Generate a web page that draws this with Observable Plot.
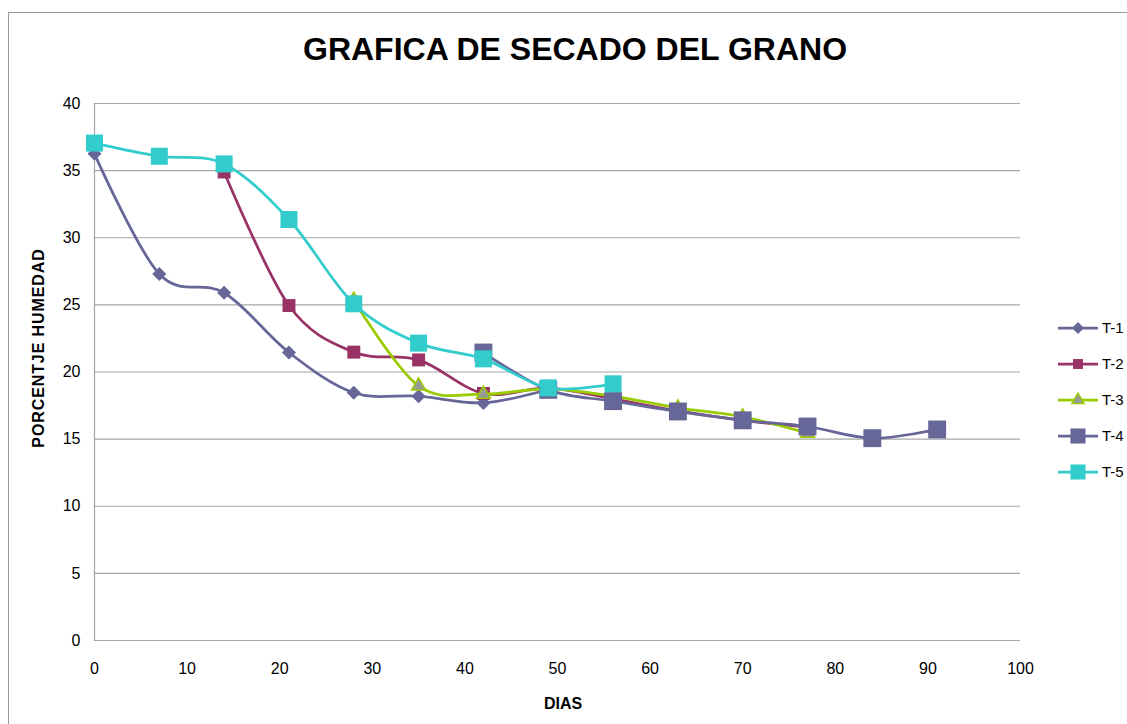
<!DOCTYPE html>
<html>
<head>
<meta charset="utf-8">
<script src="https://cdn.jsdelivr.net/npm/d3@7"></script>
<script src="https://cdn.jsdelivr.net/npm/@observablehq/plot@0.6"></script>
<style>
  html, body { margin: 0; padding: 0; background: #fff; }
  #wrap { position: relative; width: 1127px; height: 724px; overflow: hidden; font-family: "Liberation Sans", Arial, sans-serif; }
  #frame { position: absolute; left: 8px; top: 12px; width: 1200px; height: 800px; border-top: 1.5px solid #999; border-left: 1.5px solid #999; }
  #title { position: absolute; left: 0; top: 33px; width: 1150px; text-align: center; font-weight: bold; font-size: 32px; line-height: 32px; color: #000; }
  #xlab { position: absolute; left: 563px; top: 704px; transform: translate(-50%, -50%); font-weight: bold; font-size: 16px; color: #000; white-space: nowrap; }
  #ylab { position: absolute; left: 39px; top: 348px; transform: translate(-50%, -50%) rotate(-90deg); font-weight: bold; font-size: 16px; letter-spacing: 0.9px; color: #000; white-space: nowrap; }
  #chart { position: absolute; left: 0; top: 0; }
  #legend { position: absolute; left: 1050px; top: 310px; }
</style>
</head>
<body>
<div id="wrap">
  <div id="frame"></div>
  <div id="chart"></div>
  <div id="title">GRAFICA DE SECADO DEL GRANO</div>
  <div id="ylab">PORCENTJE HUMEDAD</div>
  <div id="xlab">DIAS</div>
  <div id="legend"></div>
</div>
<script>
// ---- Data ----
const dias = [0, 7, 14, 21, 28, 35, 42, 49, 56, 63, 70, 77, 84, 91];
const t1 = [36.25, 27.3, 25.9, 21.45, 18.45, 18.2, 17.7, 18.7, null, null, null, null, null, null];
const t2 = [null, null, 34.9, 24.95, 21.48, 20.9, 18.4, 18.8, 18.0, 17.1, 16.4, 15.9, null, null];
const t3 = [null, null, null, null, 25.35, 18.96, 18.35, 18.75, 18.2, 17.33, 16.66, 15.45, null, null];
const t4 = [null, null, null, null, null, null, 21.45, 18.67, 17.83, 17.06, 16.4, 15.94, 15.07, 15.72];
const t5 = [37.05, 36.07, 35.5, 31.36, 25.08, 22.15, 20.98, 18.82, 19.12, null, null, null, null, null];
const seriesNames = ["T-1", "T-2", "T-3", "T-4", "T-5"];
const seriesValues = [t1, t2, t3, t4, t5];
const xTicks = [0, 10, 20, 30, 40, 50, 60, 70, 80, 90, 100];
const yTicks = [0, 5, 10, 15, 20, 25, 30, 35, 40];

// ---- Styles ----
const styles = {
  "T-1": { color: "#666699", symbol: "square", rotate: 45, r: 5.6, fill: "#666699", stroke: "none", lr: 4.8 },
  "T-2": { color: "#993366", symbol: "square", rotate: 0, r: 7.3, fill: "#993366", stroke: "none", lr: 5.6 },
  "T-3": { color: "#99cc00", symbol: "triangle", rotate: 0, r: 5.2, fill: "#999999", stroke: "#99cc00", lr: 4.5 },
  "T-4": { color: "#666699", symbol: "square", rotate: 0, r: 10.1, fill: "#666699", stroke: "none", lr: 8.5 },
  "T-5": { color: "#33cccc", symbol: "square", rotate: 0, r: 9.6, fill: "#33cccc", stroke: "none", lr: 8.5 }
};

const rows = [];
seriesNames.forEach((s, i) => {
  seriesValues[i].forEach((v, j) => {
    if (v != null) rows.push({ serie: s, dia: dias[j], valor: v });
  });
});

const seriesMarks = seriesNames.flatMap(s => {
  const st = styles[s];
  const d = rows.filter(r => r.serie === s);
  return [
    Plot.line(d, { x: "dia", y: "valor", stroke: st.color, strokeWidth: 2.75, curve: "cardinal", tension: 0 }),
    Plot.dot(d, {
      x: "dia", y: "valor", symbol: st.symbol, r: st.r, rotate: st.rotate,
      fill: st.fill, stroke: st.stroke, strokeWidth: st.stroke === "none" ? 0 : 1.5
    })
  ];
});

const chart = Plot.plot({
  width: 1127,
  height: 724,
  marginLeft: 94,
  marginRight: 107,
  marginTop: 103,
  marginBottom: 84,
  style: { fontFamily: "'Liberation Sans', Arial, sans-serif", fontSize: "16px", color: "#000", background: "transparent", overflow: "visible" },
  x: { domain: [0, 100], ticks: xTicks, label: null },
  y: { domain: [0, 40], ticks: yTicks, label: null },
  marks: [
    Plot.gridY(yTicks, { stroke: "#a6a6a6", strokeOpacity: 1, strokeWidth: 1.2 }),
    Plot.ruleX([0], { stroke: "#a6a6a6", strokeWidth: 1.2 }),
    Plot.axisX(xTicks, { tickSize: 0, tickPadding: 22, label: null, fontSize: 16 }),
    Plot.axisY(yTicks, { tickSize: 0, tickPadding: 14, label: null, fontSize: 16 }),
    ...seriesMarks
  ]
});
document.getElementById("chart").appendChild(chart);

// ---- Legend ----
const lg = d3.select("#legend").append("svg").attr("width", 77).attr("height", 190)
  .style("font-family", "'Liberation Sans', Arial, sans-serif").style("overflow", "visible");
seriesNames.forEach((s, i) => {
  const st = styles[s];
  const g = lg.append("g").attr("transform", `translate(0, ${18 + i * 36})`);
  g.append("line").attr("x1", 8).attr("x2", 48).attr("y1", 0).attr("y2", 0)
    .attr("stroke", st.color).attr("stroke-width", 2.75);
  const type = st.symbol === "triangle" ? d3.symbolTriangle : d3.symbolSquare;
  g.append("path")
    .attr("d", d3.symbol(type, st.lr * st.lr * Math.PI)())
    .attr("transform", `translate(28,0) rotate(${st.rotate})`)
    .attr("fill", st.fill)
    .attr("stroke", st.stroke)
    .attr("stroke-width", st.stroke === "none" ? 0 : 1.5);
  g.append("text").attr("x", 52).attr("y", 0).attr("dy", "0.35em")
    .attr("font-size", 15).attr("fill", "#000").text(s);
});
</script>
</body>
</html>
